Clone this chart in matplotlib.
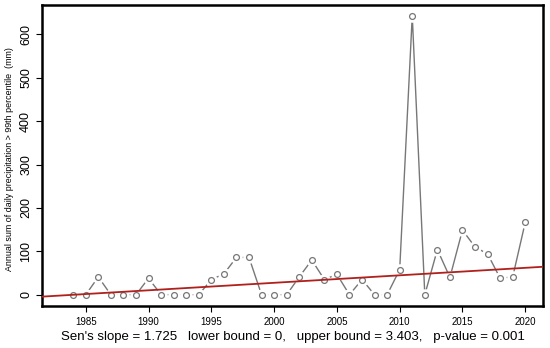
import matplotlib.pyplot as plt
import numpy as np

plt.rcParams['font.family'] = ['Liberation Sans', 'DejaVu Sans']

# annual sum of daily precipitation above the 99th percentile (mm)
years = list(range(1984, 2021))
values = [0, 0, 41, 0, 0, 0, 38, 0, 0, 0, 0, 35, 48, 86, 86, 0, 0, 0,
          41, 80, 35, 47, 0, 35, 0, 0, 58, 643, 0, 104, 40, 149, 110, 94,
          38, 41, 167]

# Sen's slope trend line
slope = 1.725
value_2000 = 27.5
stats_text = "Sen's slope = 1.725   lower bound = 0,   upper bound = 3.403,   p-value = 0.001"

fig = plt.figure(figsize=(5.5, 3.48), dpi=100)
ax = fig.add_axes([0.076, 0.121, 0.911, 0.866])

# line with gaps around the points (like R type="b")
ax.plot(years, values, color="#777777", lw=1.0, zorder=1)
ax.plot(years, values, ls="none", marker="o", ms=8, mfc="white", mec="white", zorder=2)
ax.plot(years, values, ls="none", marker="o", ms=4.2, mfc="white", mec="#777777",
        mew=0.9, zorder=3)

xlim = (1981.5, 2021.4)
xs = np.array(xlim)
ax.plot(xs, slope * (xs - 2000) + value_2000, color="#b0201c", lw=1.3, zorder=4)

ax.set_xlim(*xlim)
ax.set_ylim(-25.7, 668.7)
ax.set_xticks(range(1985, 2021, 5))
ax.set_yticks(range(0, 601, 100))
ax.tick_params(axis="x", labelsize=7, length=4, width=0.8, pad=4)
ax.tick_params(axis="y", labelsize=9, length=4, width=0.8, pad=3)
for lab in ax.get_yticklabels():
    lab.set_rotation(90)
    lab.set_va("center")

for s in ax.spines.values():
    s.set_linewidth(1.8)

fig.text(0.018, 0.543, "Annual sum of daily precipitation > 99th percentile  (mm)",
         rotation=90, ha="center", va="center", fontsize=6.4)
fig.text(0.532, 0.032, stats_text, ha="center", va="center", fontsize=9.5)

plt.savefig("out.png", dpi=100)
